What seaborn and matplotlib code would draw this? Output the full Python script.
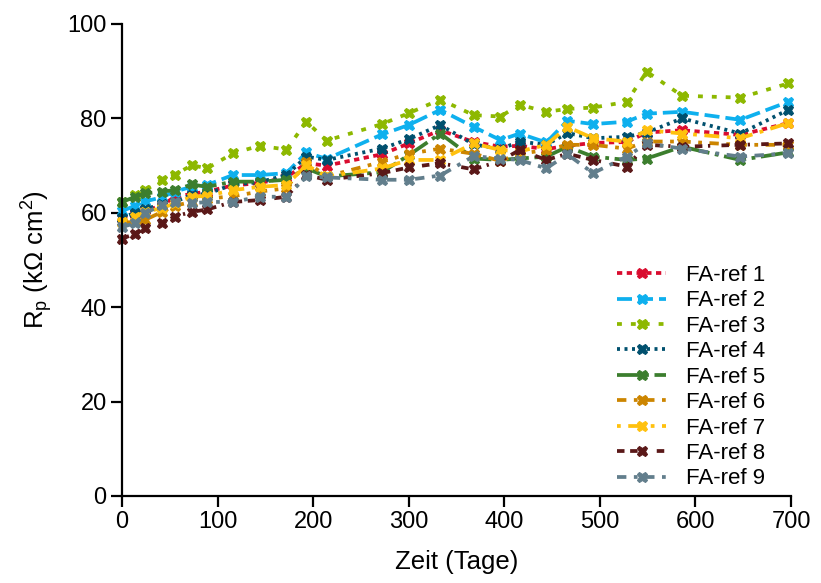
import numpy as np
import pandas as pd
import matplotlib
matplotlib.use("Agg")
import matplotlib.pyplot as plt
import seaborn as sns

# ---- data ----
zeit = [0, 14, 24, 42, 55, 73, 89, 116, 144, 172, 193, 214, 272, 300, 333,
        368, 396, 416, 444, 466, 493, 528, 549, 586, 647, 697]

fa_ref_1 = [59.0, 59.8, 60.5, 61.5, 63.4, 64.0, 64.5, 65.8, 66.3, 67.5, 70.5, 70.0, 72.4,
            74.7, 77.5, 75.0, 74.0, 74.2, 73.5, 74.2, 74.8, 75.0, 77.0, 77.5, 76.5, 79.0]
fa_ref_2 = [60.4, 61.5, 62.4, 63.3, 64.5, 65.5, 65.9, 68.0, 68.0, 68.4, 72.8, 71.4, 76.6,
            78.6, 81.8, 78.2, 75.4, 76.8, 74.9, 79.5, 78.8, 79.3, 81.0, 81.4, 79.7, 83.5]
fa_ref_3 = [62.3, 63.8, 64.8, 66.9, 68.0, 70.1, 69.4, 72.6, 74.2, 73.4, 79.3, 75.3, 78.8,
            81.1, 84.0, 80.7, 80.4, 82.9, 81.4, 82.0, 82.3, 83.5, 89.9, 84.8, 84.4, 87.4]
fa_ref_4 = [59.0, 60.0, 60.8, 61.8, 62.3, 63.8, 64.0, 66.0, 66.5, 68.0, 71.9, 71.2, 73.6,
            75.6, 78.6, 74.5, 73.5, 75.1, 74.4, 76.9, 75.8, 76.1, 77.0, 80.0, 76.8, 81.8]
fa_ref_5 = [62.3, 63.4, 64.1, 64.5, 64.8, 66.0, 65.5, 66.6, 66.6, 67.0, 69.4, 67.7, 68.6,
            72.2, 76.8, 71.5, 71.2, 71.5, 71.9, 74.0, 71.9, 71.2, 71.5, 74.0, 71.2, 72.8]
fa_ref_6 = [58.0, 58.0, 58.5, 60.2, 61.5, 62.3, 63.0, 63.5, 64.5, 65.2, 70.8, 67.7, 70.8,
            72.5, 73.6, 72.5, 71.0, 72.5, 73.3, 74.4, 74.4, 73.6, 75.1, 75.1, 74.4, 74.4]
fa_ref_7 = [58.1, 59.2, 60.2, 61.0, 62.0, 63.4, 63.6, 64.8, 65.5, 65.9, 70.1, 67.7, 69.4,
            71.2, 71.2, 74.7, 73.3, 73.0, 74.4, 78.2, 75.8, 75.1, 77.5, 76.8, 75.8, 79.0]
fa_ref_8 = [54.5, 55.6, 56.7, 57.8, 59.2, 60.2, 60.7, 62.3, 62.7, 63.4, 68.0, 67.0, 68.4,
            69.6, 70.5, 69.2, 71.0, 73.3, 71.2, 72.5, 71.2, 69.8, 74.4, 74.0, 74.4, 74.7]
fa_ref_9 = [57.0, 57.8, 59.9, 61.7, 62.3, 62.0, 62.3, 62.3, 63.4, 63.4, 67.7, 67.5, 67.0,
            67.0, 67.9, 72.0, 71.5, 71.2, 69.4, 72.4, 68.4, 71.9, 74.7, 73.6, 71.9, 72.6]

labels = ["FA-ref 1", "FA-ref 2", "FA-ref 3", "FA-ref 4", "FA-ref 5",
          "FA-ref 6", "FA-ref 7", "FA-ref 8", "FA-ref 9"]
series = [fa_ref_1, fa_ref_2, fa_ref_3, fa_ref_4, fa_ref_5,
          fa_ref_6, fa_ref_7, fa_ref_8, fa_ref_9]

colors = ["#D90C2F", "#0EB0EE", "#8DB800", "#00506E", "#3C7E2E",
          "#CC8500", "#FFC10E", "#5A1818", "#627E8C"]
dash_styles = [(1.4, 1.2), (4, 1.6), (1.3, 2.4), (0.8, 1.2), (6, 1.5, 1, 1.5),
               (2.5, 2, 1, 2), (1, 2, 4, 2), (2, 1.5, 2, 1.5, 0.6, 3), (2.5, 2, 1, 2)]

rows = []
for lab, vals in zip(labels, series):
    for t, v in zip(zeit, vals):
        rows.append({"Zeit": t, "Rp": v, "Serie": lab})
df = pd.DataFrame(rows)

sns.set_theme(style="white")
plt.rcParams["font.family"] = ["Liberation Sans", "DejaVu Sans"]
plt.rcParams["mathtext.fontset"] = "custom"
plt.rcParams["mathtext.rm"] = "Liberation Sans"
plt.rcParams["mathtext.it"] = "Liberation Sans:italic"
plt.rcParams["text.color"] = "black"
plt.rcParams["axes.labelcolor"] = "black"
plt.rcParams["xtick.color"] = "black"
plt.rcParams["ytick.color"] = "black"

fig = plt.figure(figsize=(8.21, 5.83), dpi=100)
ax = fig.add_axes([122 / 821, 1 - 496 / 583, (791 - 122) / 821, (496 - 24) / 583])

sns.lineplot(data=df, x="Zeit", y="Rp", hue="Serie", style="Serie",
             hue_order=labels, style_order=labels,
             palette=dict(zip(labels, colors)),
             dashes=dict(zip(labels, dash_styles)),
             markers=dict(zip(labels, ["X"] * 9)),
             markersize=7.5, markeredgewidth=0.8, linewidth=2.7,
             estimator=None, sort=True, ax=ax, legend=True)

for ln in ax.lines:
    ln.set_clip_on(False)
    ln.set_markeredgecolor(ln.get_color())

ax.set_xlim(0, 700)
ax.set_ylim(0, 100)
ax.set_xticks(range(0, 701, 100))
ax.set_yticks(range(0, 101, 20))
sns.despine(ax=ax)
for s in ["left", "bottom"]:
    ax.spines[s].set_linewidth(1.6)
    ax.spines[s].set_color("black")
ax.tick_params(axis="both", direction="out", length=8, width=1.6, colors="black",
               labelcolor="black", labelsize=17, pad=3, left=True, bottom=True)
ax.set_xlabel("Zeit (Tage)", fontsize=18.5, labelpad=12, color="black")
ax.set_ylabel(r"R$_\mathrm{p}$ (k$\Omega$ cm$^2$)", fontsize=18.5, labelpad=9,
              color="black")

handles, labs = ax.get_legend_handles_labels()
leg = ax.legend(handles, labs, loc="lower right", bbox_to_anchor=(0.975, -0.005),
                frameon=False, fontsize=16, handlelength=2.2, labelspacing=0.2,
                handletextpad=0.9, borderaxespad=0.0)
for txt in leg.get_texts():
    txt.set_color("black")

fig.savefig("out.png", dpi=100)
